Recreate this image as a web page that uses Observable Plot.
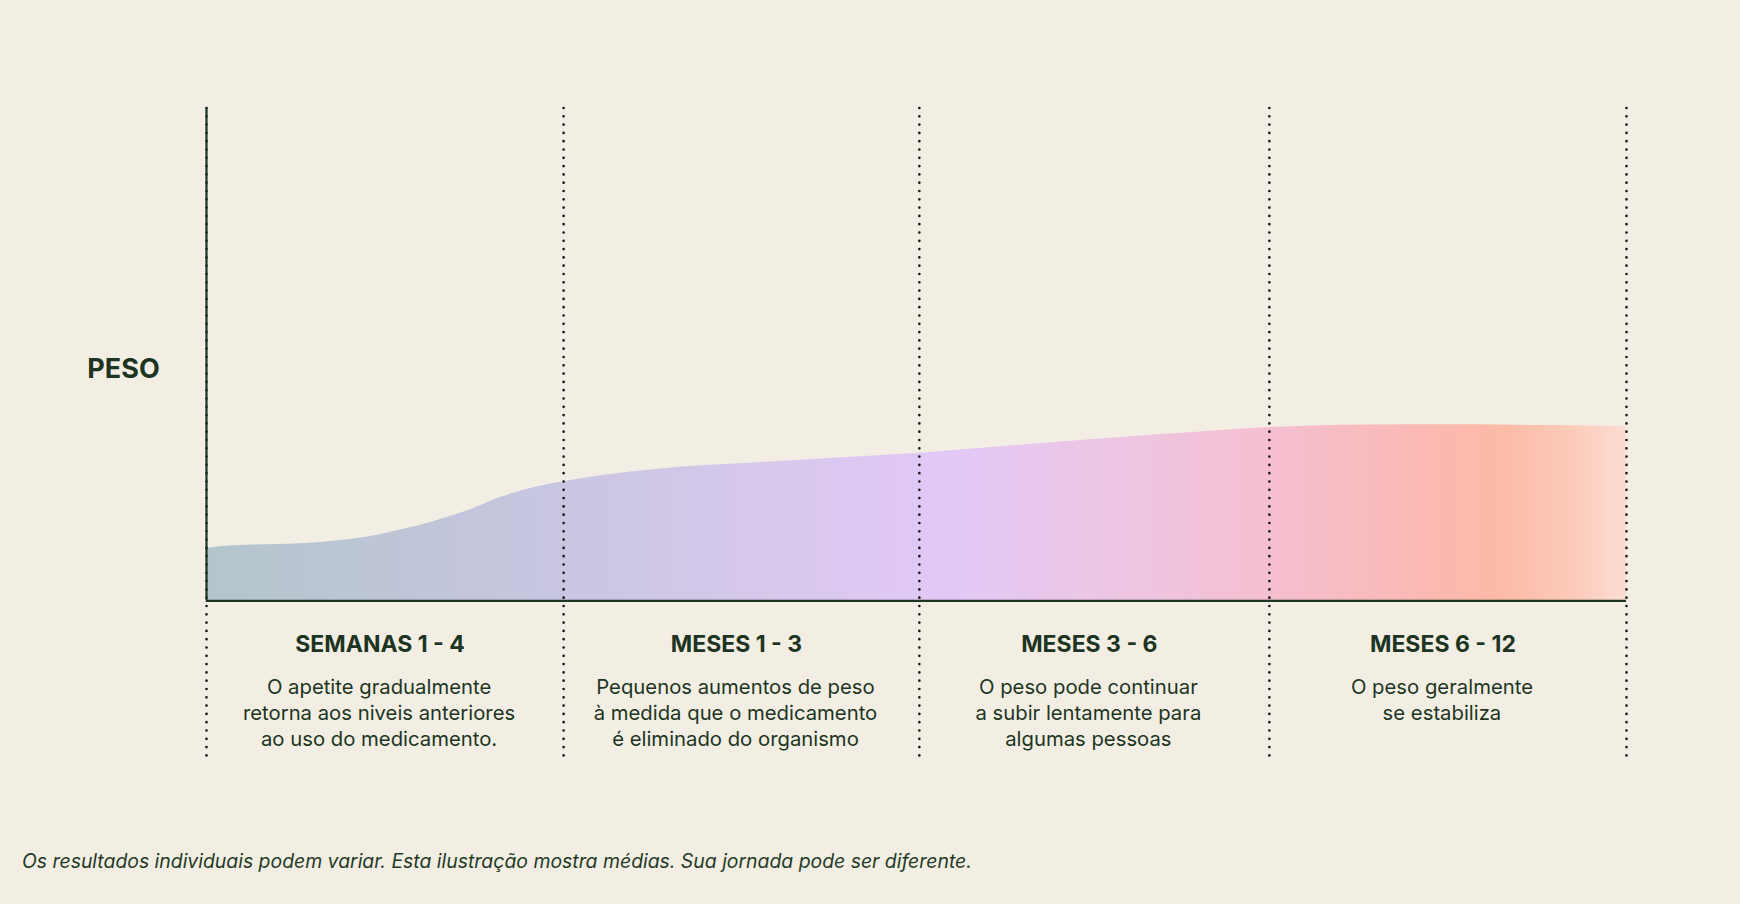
<!DOCTYPE html>
<html>
<head>
<meta charset="utf-8">
<script src="https://cdn.jsdelivr.net/npm/d3@7"></script>
<script src="https://cdn.jsdelivr.net/npm/@observablehq/plot@0.6"></script>
<style>
  html, body { margin: 0; padding: 0; background: #f3eee4; }
  body { width: 1740px; height: 904px; overflow: hidden; position: relative; font-family: Inter, "Noto Sans", sans-serif; }
  #chart svg { display: block; }
  #note { position: absolute; left: 22px; top: 850px; font-style: italic; font-size: 19.4px; line-height: 22px; color: #1f3a26; white-space: nowrap; }
</style>
</head>
<body>
<div id="chart"></div>
<div id="note"></div>
<script>
// ---- data ----
const phases = ["SEMANAS 1 - 4", "MESES 1 - 3", "MESES 3 - 6", "MESES 6 - 12"];
const descriptions = [
  "O apetite gradualmente\nretorna aos niveis anteriores\nao uso do medicamento.",
  "Pequenos aumentos de peso\nà medida que o medicamento\né eliminado do organismo",
  "O peso pode continuar\na subir lentamente para\nalgumas pessoas",
  "O peso geralmente\nse estabiliza"
];
// phase boundaries along the timeline (in phase units, as drawn)
const boundaries = [0, 1.006, 2.008, 2.994, 4];
// position along the timeline (in phase units) and relative weight (0–100)
const timeline = [0, 0.076, 0.265, 0.358, 0.454, 0.546, 0.639, 0.735, 0.828, 0.921, 1.006, 1.11, 1.279, 1.561, 1.842, 2.008, 2.237, 2.518, 2.8, 2.994, 3.194, 3.383, 3.569, 3.758, 4];
const weight   = [10.7, 11.2, 11.6, 12.1, 13.0, 14.4, 16.1, 18.3, 21.0, 23.0, 24.2, 25.4, 26.8, 28.1, 29.3, 30.0, 31.3, 32.9, 34.3, 35.2, 35.7, 35.8, 35.8, 35.6, 35.4];
const yLabel = "PESO";
const footnote = "Os resultados individuais podem variar. Esta ilustração mostra médias. Sua jornada pode ser diferente.";
const gradientOffsets = [0, 0.14, 0.25, 0.40, 0.52, 0.63, 0.75, 0.86, 0.91, 0.96, 1];
const gradientColors  = ["#b3c5cb", "#bfc5d8", "#c9c6e2", "#d7c8ec", "#e2c8f7", "#ecc6e5", "#f5bfd0", "#fab9b2", "#fbbaa6", "#fcc9b8", "#fbdcd2"];

// ---- layout ----
const yTop = 100, yBottom = -32;
const ink = "#1c3522";
const points = timeline.map((t, i) => ({t, w: weight[i]}));
const mid = (d, i) => (boundaries[i] + boundaries[i + 1]) / 2;

const chart = Plot.plot({
  width: 1740,
  height: 820,
  marginLeft: 206,
  marginRight: 114,
  marginTop: 108,
  marginBottom: 62,
  x: {domain: [0, 4], axis: null},
  y: {domain: [yBottom, yTop], axis: null},
  style: {fontFamily: "Inter, 'Noto Sans', sans-serif", background: "transparent", color: ink},
  marks: [
    Plot.areaY(points, {x: "t", y: "w", y1: 0, fill: "url(#weightGrad)", curve: "monotone-x"}),
    Plot.ruleX(boundaries, {y1: yTop, y2: yBottom, stroke: "#1a1a1a", strokeWidth: 2.7, strokeDasharray: "0,8.3", strokeLinecap: "round"}),
    Plot.ruleX([0], {y1: 0, y2: yTop, stroke: ink, strokeWidth: 2.2}),
    Plot.ruleY([0], {x1: 0, x2: 4, stroke: ink, strokeWidth: 2.2}),
    Plot.text([yLabel], {frameAnchor: "left", dx: -83, y: 47, text: d => d, fontSize: 27, fontWeight: 700, fill: ink, textAnchor: "middle"}),
    Plot.text(phases, {x: mid, y: -8.8, dx: -5, text: d => d, fontSize: 23, fontWeight: 700, fill: ink, letterSpacing: "-0.3px"}),
    Plot.text(descriptions, {x: mid, y: -15.0, dx: -6, text: d => d, fontSize: 20.3, fontWeight: 400, fill: ink, lineAnchor: "top", lineHeight: 1.3})
  ]
});

// gradient definition for the area
const ns = "http://www.w3.org/2000/svg";
const svg = chart.tagName.toLowerCase() === "svg" ? chart : chart.querySelector("svg");
const defs = document.createElementNS(ns, "defs");
const lg = document.createElementNS(ns, "linearGradient");
lg.setAttribute("id", "weightGrad");
lg.setAttribute("x1", "0"); lg.setAttribute("x2", "1");
lg.setAttribute("y1", "0"); lg.setAttribute("y2", "0");
gradientOffsets.forEach((o, i) => {
  const s = document.createElementNS(ns, "stop");
  s.setAttribute("offset", o);
  s.setAttribute("stop-color", gradientColors[i]);
  lg.appendChild(s);
});
defs.appendChild(lg);
svg.insertBefore(defs, svg.firstChild);

document.getElementById("chart").appendChild(chart);
document.getElementById("note").textContent = footnote;
</script>
</body>
</html>
